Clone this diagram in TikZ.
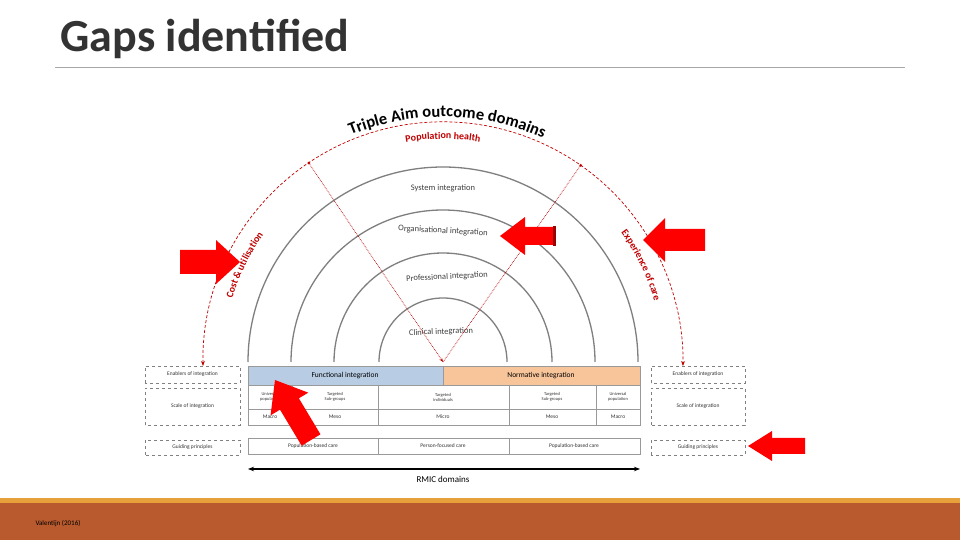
\documentclass[tikz,border=0pt]{standalone}
\usepackage{fontspec}
\setmainfont{Carlito}
\usetikzlibrary{decorations.text,arrows.meta,calc}
\definecolor{gcol}{HTML}{7F7F7F}
\definecolor{dred}{HTML}{C00000}
\definecolor{bluef}{HTML}{B8CCE4}
\definecolor{orf}{HTML}{F8C49A}
\definecolor{band}{HTML}{B85A2E}
\definecolor{bandt}{HTML}{E8A13A}
\newcommand\tafont{\fontsize{16.5}{18}\selectfont\bfseries}
\newcommand\redfont{\fontsize{9}{10}\selectfont}
\newcommand\mybf{\bfseries}
\tikzset{
 ring/.style={draw=gcol,line width=1.3pt},
 sidebox/.style={draw=gray,dashed,line width=0.4pt},
 cell/.style={draw=gray!80,line width=0.5pt},
 small/.style={font=\fontsize{5.5}{6}\selectfont,text=black!80},
 tiny/.style={font=\fontsize{4.5}{5}\selectfont,text=black!80,align=center},
 ringlbl/.style={font=\fontsize{8.5}{10}\selectfont,text=black!75},
 reddot/.style={draw=dred,densely dotted,line width=0.7pt},
 pics/blockarrow/.style n args={4}{code={
   \fill[red] (0,0) -- (-#2,#3) -- (-#2,#4) -- (-#1,#4) -- (-#1,-#4) -- (-#2,-#4) -- (-#2,-#3) -- cycle;}},
}
\begin{document}
\begin{tikzpicture}[x=1pt,y=1pt]
\useasboundingbox (0,0) rectangle (960,540);
\fill[white] (0,0) rectangle (960,540);
% title
\node[anchor=west,font=\fontsize{46}{48}\selectfont\bfseries,text=black!80] (title) at (57,501) {Gaps identified};
\draw[gray!70,line width=1pt] (55,472) -- (905,472);
% bottom band
\fill[bandt] (0,37) rectangle (960,42);
\fill[band] (0,0) rectangle (960,37);
\node[anchor=west,font=\fontsize{7}{8}\selectfont] (ref) at (32,16) {Valentijn (2016)};
% rings
\coordinate (c) at (443,178);
\draw[ring] (248,178) arc[start angle=180,end angle=0,radius=195];
\draw[ring] (291,178) arc[start angle=180,end angle=0,radius=152];
\draw[ring] (334,178) arc[start angle=180,end angle=0,radius=109];
\draw[ring] (379,178) arc[start angle=180,end angle=0,radius=64];
\node[ringlbl] (sys) at (443,352) {System integration};
\node[ringlbl,rotate=-3] (org) at (443,309) {Organisational integration};
\node[ringlbl,rotate=3] (pro) at (447,263) {Professional integration};
\node[ringlbl,rotate=2] (cli) at (441,208) {Clinical integration};
% red outer arc
\draw[dred,densely dashed,line width=0.7pt,{Stealth[length=5pt]}-{Stealth[length=5pt]}] (203,174) arc[start angle=181,end angle=-1,radius=240];
\coordinate (pl) at ($(443,178)+(124:240)$);
\coordinate (pr) at ($(443,178)+(55:240)$);
\draw[reddot,-{Stealth[length=4pt]}] (pl) -- (c);
\draw[reddot] (c) -- (pr);
\fill[dred] (pl) circle (1.5pt) (pr) circle (1.5pt);
% curved labels
\path[decorate,decoration={text along path,text align=center,text={|\tafont|Triple Aim outcome domains}}]
  ($(443,178)+(120:245)$) arc[start angle=120,end angle=58,radius=245];
\path[font=\redfont,decorate,decoration={text along path,text align=center,text color=dred,text={|\mybf|Population health}}]
  ($(443,178)+(102:223)$) arc[start angle=102,end angle=78,radius=223];
\path[font=\redfont,decorate,decoration={text along path,text align=center,text color=dred,text={|\mybf|Cost {\&} utilisation}}]
  ($(443,178)+(167:220)$) arc[start angle=167,end angle=141,radius=220];
\path[font=\redfont,decorate,decoration={text along path,text align=center,text color=dred,text={|\mybf|Experience of care}}]
  ($(443,178)+(39:220)$) arc[start angle=39,end angle=13,radius=220];
% table
\draw[cell,fill=bluef] (248,155) rectangle (443,174);
\draw[cell,fill=orf] (443,155) rectangle (640,174);
\node[small,font=\fontsize{7.5}{8}\selectfont,text=black] (fi) at (345,164.5) {Functional integration};
\node[small,font=\fontsize{7.5}{8}\selectfont,text=black] (ni) at (541,164.5) {Normative integration};
\draw[cell] (248,115) rectangle (640,155);
\draw[cell] (248,131) -- (640,131);
\foreach \x in {292,378,509,596} \draw[cell] (\x,115) -- (\x,155);
\node[tiny] (u1) at (270,143) {Universal\\population};
\node[tiny] (t1) at (335,143) {Targeted\\Sub-groups};
\node[tiny] (ti) at (443,143) {Targeted\\individuals};
\node[tiny] (t2) at (552,143) {Targeted\\Sub-groups};
\node[tiny] (u2) at (618,143) {Universal\\population};
\node[small] (m1) at (270,123) {Macro};
\node[small] (m2) at (335,123) {Meso};
\node[small] (m3) at (443,123) {Micro};
\node[small] (m4) at (552,123) {Meso};
\node[small] (m5) at (618,123) {Macro};
\draw[cell] (248,86) rectangle (640,102);
\foreach \x in {378,509} \draw[cell] (\x,86) -- (\x,102);
\node[small] (g1) at (313,94) {Population-based care};
\node[small] (g2) at (443,94) {Person-focused care};
\node[small] (g3) at (574,94) {Population-based care};
% side boxes
\draw[sidebox] (145,157) rectangle (240,174);
\node[small] (el) at (192.5,165.5) {Enablers of integration};
\draw[sidebox] (145,115) rectangle (240,152);
\node[small] (sl) at (192.5,134) {Scale of integration};
\draw[sidebox] (145,85) rectangle (240,100);
\node[small] (gl) at (192.5,92.5) {Guiding principles};
\draw[sidebox] (651,157) rectangle (745,174);
\node[small] (er) at (698,165.5) {Enablers of integration};
\draw[sidebox] (651,115) rectangle (745,152);
\node[small] (sr) at (698,134) {Scale of integration};
\draw[sidebox] (651,85) rectangle (745,100);
\node[small] (gr) at (698,92.5) {Guiding principles};
% RMIC
\coordinate (ra) at (248,71);
\coordinate (rb) at (640,71);
\draw[line width=1.2pt,{Stealth[length=6pt]}-{Stealth[length=6pt]}] (ra) -- (rb);
\node[font=\fontsize{9}{10}\selectfont] (rmic) at (443,61) {RMIC domains};
% red block arrows
\pic at (240,278) {blockarrow={60}{24}{22}{12}};
\pic[rotate=180] at (500,304) {blockarrow={53}{25}{19}{9}};
\fill[red!60!black] (553,294) rectangle (556,314);
\pic[rotate=180] at (643,300) {blockarrow={62}{22}{22}{11}};
\pic[rotate=121] at (275,160) {blockarrow={70}{28}{22}{11}};
\pic[rotate=180] at (748,94) {blockarrow={57}{24}{15}{8}};
\end{tikzpicture}
\end{document}
